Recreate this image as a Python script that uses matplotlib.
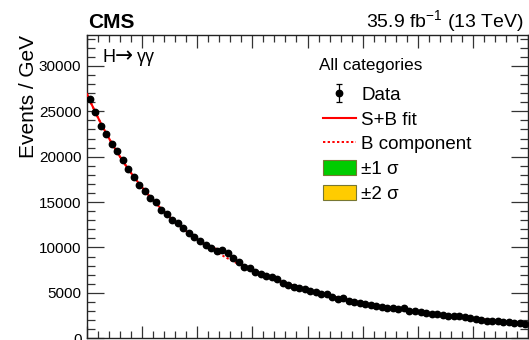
import numpy as np
import matplotlib
matplotlib.use("Agg")
import matplotlib.pyplot as plt
from matplotlib.lines import Line2D
from matplotlib.patches import Patch
from matplotlib.ticker import MultipleLocator

plt.rcParams['font.family'] = ['Liberation Sans', 'DejaVu Sans']

# Diphoton invariant mass spectrum, 1 GeV bins from 100 to 180 GeV
mass_lo, mass_hi = 100.0, 180.0
events_per_gev = [
    26300, 24950, 23400, 22500, 21450, 20600, 19600, 18600, 17800, 16900,
    16250, 15500, 14980, 14130, 13650, 13030, 12730, 12180, 11560, 11120,
    10750, 10240, 9980, 9650, 9690, 9360, 8880, 8440, 7820, 7780,
    7340, 7080, 6820, 6780, 6500, 6120, 5870, 5620, 5570, 5400,
    5240, 5130, 4850, 4850, 4580, 4330, 4400, 4110, 4000, 3920,
    3780, 3670, 3560, 3480, 3340, 3370, 3260, 3300, 3040, 3040,
    2900, 2820, 2680, 2680, 2600, 2490, 2460, 2420, 2350, 2270,
    2130, 1980, 1940, 1940, 1940, 1830, 1800, 1720, 1650, 1610,
]
higgs_mass = 125.0
signal_width = 1.7

counts = np.array(events_per_gev, dtype=float)
centers = np.arange(mass_lo + 0.5, mass_hi, 1.0)

# Background: exponential of a cubic polynomial, fitted to the sidebands
u = (centers - 140.0) / 40.0
side = np.abs(centers - higgs_mass) > 5
coef = np.polyfit(u[side], np.log(counts[side]), 3, w=np.sqrt(counts[side]))
bkg_at_bins = np.exp(np.polyval(coef, u))
gauss_at_bins = np.exp(-0.5 * ((centers - higgs_mass) / signal_width) ** 2)
sig_amp = max(np.sum((counts - bkg_at_bins) * gauss_at_bins) / np.sum(gauss_at_bins ** 2), 0.0)

xf = np.linspace(mass_lo, mass_hi, 800)
uf = (xf - 140.0) / 40.0
bkg_curve = np.exp(np.polyval(coef, uf))
sb_curve = bkg_curve + sig_amp * np.exp(-0.5 * ((xf - higgs_mass) / signal_width) ** 2)

W, H = 529, 340
fig = plt.figure(figsize=(W / 100, H / 100), dpi=100)
ax = fig.add_axes([87 / W, 1 - 338.3 / H, (528 - 87) / W, (338.3 - 35) / H])

dotted = (0, (1.2, 1.2))
ax.plot(xf, bkg_curve, color='red', lw=1.4, ls=dotted, zorder=2)
ax.plot(xf, sb_curve, color='red', lw=1.5, zorder=3)
ax.errorbar(centers, counts, yerr=np.sqrt(counts), fmt='o', color='black',
            ms=4.6, elinewidth=1, capsize=0, zorder=4)
# legend entry for the data: marker with capped error bar
data_handle = ax.errorbar([np.nan], [np.nan], yerr=[1.0], fmt='o', color='black',
                          ms=4.6, elinewidth=0.9, capsize=2.2, capthick=0.9)

ax.set_xlim(mass_lo, mass_hi)
ax.set_ylim(0, 33400)
ax.xaxis.set_major_locator(MultipleLocator(10))
ax.xaxis.set_minor_locator(MultipleLocator(2))
ax.yaxis.set_major_locator(MultipleLocator(5000))
ax.yaxis.set_minor_locator(MultipleLocator(1000))
ax.tick_params(axis='both', which='both', direction='in', top=True, right=True,
               colors='#333333', labelcolor='black', width=0.9)
ax.tick_params(axis='y', which='major', length=12, labelsize=11, pad=4)
ax.tick_params(axis='y', which='minor', length=6)
ax.tick_params(axis='x', which='major', length=9, labelbottom=False)
ax.tick_params(axis='x', which='minor', length=5)
for s in ax.spines.values():
    s.set_linewidth(1.0)
    s.set_color('#222222')

ax.set_ylabel('Events / GeV', fontsize=15, labelpad=0.5)
ax.yaxis.label.set_position((0, 1))
ax.yaxis.label.set_horizontalalignment('right')

fig.text(88 / W, 1 - 28 / H, 'CMS', fontsize=15, fontweight='bold', ha='left', va='baseline')
fig.text(524 / W, 1 - 28 / H, r'35.9 fb$^{\mathregular{-1}}$ (13 TeV)', fontsize=14,
         ha='right', va='baseline')

# channel label, with a longer arrow than the sans font provides
fig.text(103 / W, 1 - 62 / H, 'H', fontsize=13, ha='left', va='baseline')
fig.text(114.5 / W, 1 - 62 / H, '\u2192', fontsize=15.5, family='DejaVu Sans',
         ha='left', va='baseline')
fig.text(136.5 / W, 1 - 62 / H, '\u03b3\u03b3', fontsize=13, ha='left', va='baseline')

fig.text(319 / W, 1 - 70 / H, 'All categories', fontsize=12.3, ha='left', va='baseline')
handles = [
    data_handle,
    Line2D([], [], color='red', lw=1.5),
    Line2D([], [], color='red', lw=1.4, ls=dotted),
    Patch(facecolor='#00cc00', edgecolor='#777733', lw=0.8),
    Patch(facecolor='#ffcc00', edgecolor='#777733', lw=0.8),
]
labels = ['Data', 'S+B fit', 'B component', '\u00b11 \u03c3', '\u00b12 \u03c3']
leg = ax.legend(handles, labels, loc='upper left', bbox_to_anchor=(323 / W, 1 - 86 / H),
                bbox_transform=fig.transFigure, frameon=False, fontsize=13.5,
                handlelength=1.75, handleheight=0.85, handletextpad=0.3,
                labelspacing=0.36, borderpad=0, borderaxespad=0)

fig.savefig('out.png', dpi=100)
